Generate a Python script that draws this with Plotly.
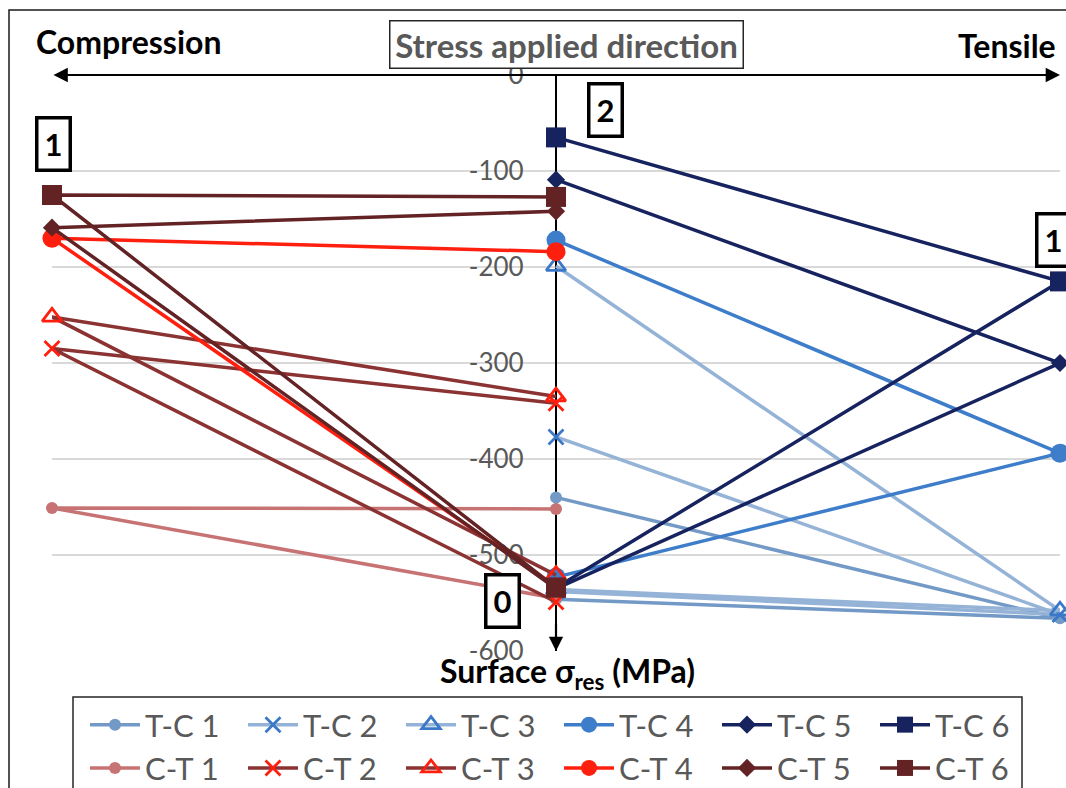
import plotly.graph_objects as go

# Residual stress at the surface after each loading step (MPa).
# x positions of the three stages: compression side, initial/centre, tensile side
x_compression, x_centre, x_tensile = -1, 0, 1

tc_names = ["T-C 1", "T-C 2", "T-C 3", "T-C 4", "T-C 5", "T-C 6"]
tc_initial = [-546, -538, -536, -523, -535, -534]
tc_after_tension = [-566, -562, -558, -394, -300, -215]
tc_after_compression = [-440, -377, -199, -172, -109, -65]

ct_names = ["C-T 1", "C-T 2", "C-T 3", "C-T 4", "C-T 5", "C-T 6"]
ct_initial = [-545, -549, -521, -533, -535, -534]
ct_after_compression = [-451, -285, -252, -170, -159, -125]
ct_after_tension = [-452, -342, -335, -184, -142, -127]

y_ticks = [0, -100, -200, -300, -400, -500, -600]

# Styling per series: line colour, marker symbol, marker colour, marker size
tc_style = [
    ("#7399C6", "circle", "#7399C6", 12),
    ("#95B3D7", "x-thin-open", "#3C78C8", 15),
    ("#95B3D7", "triangle-up-open", "#3C78C8", 17),
    ("#3D7DCA", "circle", "#3D7DCA", 19),
    ("#16235F", "diamond", "#16235F", 14),
    ("#16235F", "square", "#16235F", 20),
]
ct_style = [
    ("#C87373", "circle", "#C87373", 12),
    ("#8B3232", "x-thin-open", "#FF1F0F", 15),
    ("#8B3232", "triangle-up-open", "#FF1F0F", 17),
    ("#FF1F0F", "circle", "#FF1F0F", 19),
    ("#632325", "diamond", "#632325", 14),
    ("#632325", "square", "#632325", 20),
]

FONT = "Lato"
GREY = "#595959"

W, H = 1066, 788
L, R, T, B = 52, 6, 75, 137
PW, PH = W - L - R, H - T - B


def fx(px):
    return (px - L) / PW


def fy(py):
    return (H - B - py) / PH


fig = go.Figure()


def add_series(name, xs, ys, style):
    lc, sym, mc, ms = style
    open_sym = sym.endswith("open")
    fig.add_trace(go.Scatter(
        x=xs, y=ys, name=name, mode="lines+markers",
        line=dict(color=lc, width=3.5),
        marker=dict(symbol=sym, size=ms, color=mc,
                    line=dict(color=mc, width=2.8 if open_sym else 0)),
        cliponaxis=False,
    ))


for i, n in enumerate(tc_names):
    add_series(n, [x_centre, x_tensile, x_centre],
               [tc_initial[i], tc_after_tension[i], tc_after_compression[i]], tc_style[i])
for i, n in enumerate(ct_names):
    add_series(n, [x_centre, x_compression, x_centre],
               [ct_initial[i], ct_after_compression[i], ct_after_tension[i]], ct_style[i])

annotations = []

# Double-headed stress direction arrow along y = 0
annotations.append(dict(x=x_tensile, y=0, ax=x_compression, ay=0, xref="x", yref="y",
                        axref="x", ayref="y", text="", showarrow=True, arrowhead=2,
                        arrowside="end+start", arrowsize=1.3, arrowwidth=2.2,
                        arrowcolor="black"))
# Arrow head at the bottom of the stress axis
annotations.append(dict(x=x_centre, y=-600, ax=x_centre, ay=-570, xref="x", yref="y",
                        axref="x", ayref="y", text="", showarrow=True, arrowhead=2,
                        arrowsize=1.3, arrowwidth=2.2, arrowcolor="black"))

annotations.append(dict(x=fx(34), y=fy(42), xref="paper", yref="paper", xanchor="left",
                        yanchor="middle", text="<b>Compression</b>", showarrow=False,
                        font=dict(family=FONT, size=32, color="black")))
annotations.append(dict(x=fx(1058), y=fy(46), xref="paper", yref="paper", xanchor="right",
                        yanchor="middle", text="<b>Tensile</b>", showarrow=False,
                        font=dict(family=FONT, size=32, color="black")))
annotations.append(dict(x=fx(566), y=fy(44), xref="paper", yref="paper", xanchor="center",
                        yanchor="middle", text="<b>Stress applied direction</b>",
                        showarrow=False, bgcolor="white", bordercolor="#262626",
                        borderwidth=1.5, width=352, height=46, borderpad=0,
                        font=dict(family=FONT, size=33, color=GREY)))
annotations.append(dict(x=fx(567), y=fy(673), xref="paper", yref="paper", xanchor="center",
                        yanchor="middle", text="<b>Surface σ<sub>res</sub> (MPa)</b>",
                        showarrow=False, font=dict(family=FONT, size=32, color="black")))

# Loading-step boxes
for label, cx, cy in [("1", 53.5, 144), ("2", 605, 110), ("1", 1053.5, 240), ("0", 502, 601)]:
    annotations.append(dict(x=fx(cx), y=fy(cy), xref="paper", yref="paper",
                            xanchor="center", yanchor="middle", text=f"<b>{label}</b>",
                            showarrow=False, bgcolor="white", bordercolor="black",
                            borderwidth=3.5, borderpad=0, width=30, height=49,
                            font=dict(family=FONT, size=31, color="black")))

shapes = [
    # outer chart frame
    dict(type="rect", xref="paper", yref="paper", x0=fx(9), x1=fx(1080), y0=fy(820),
         y1=fy(10), line=dict(color="#1a1a1a", width=1.5), fillcolor="rgba(0,0,0,0)",
         layer="below"),
    # legend frame
    dict(type="rect", xref="paper", yref="paper", x0=fx(73), x1=fx(1022), y0=fy(820),
         y1=fy(697), line=dict(color="#262626", width=1.5), fillcolor="white",
         layer="below"),
]

fig.update_layout(
    width=W, height=H,
    margin=dict(l=L, r=R, t=T, b=B, autoexpand=False),
    paper_bgcolor="white", plot_bgcolor="white",
    xaxis=dict(range=[-1, 1], tickvals=[-1, 0, 1], showticklabels=False,
               showgrid=True, gridcolor="#D9D9D9", gridwidth=1.5, zeroline=False,
               showline=False, fixedrange=True),
    yaxis=dict(range=[-600, 0], tickvals=y_ticks, ticktext=[str(v) for v in y_ticks],
               anchor="free", position=0.5, side="left", showline=True,
               linecolor="black", linewidth=2.2, showgrid=True, gridcolor="#D9D9D9",
               gridwidth=1.5, zeroline=False, ticks="", ticklabelstandoff=26,
               tickfont=dict(family=FONT, size=26, color=GREY), layer="below traces"),
    showlegend=True,
    legend=dict(orientation="h", x=fx(85), y=fy(698), xanchor="left", yanchor="top",
                bgcolor="rgba(0,0,0,0)", borderwidth=0,
                font=dict(family=FONT, size=31, color=GREY), itemwidth=50,
                entrywidth=93, entrywidthmode="pixels", traceorder="normal"),
    annotations=annotations,
    shapes=shapes,
)

fig.write_html("out.html")
